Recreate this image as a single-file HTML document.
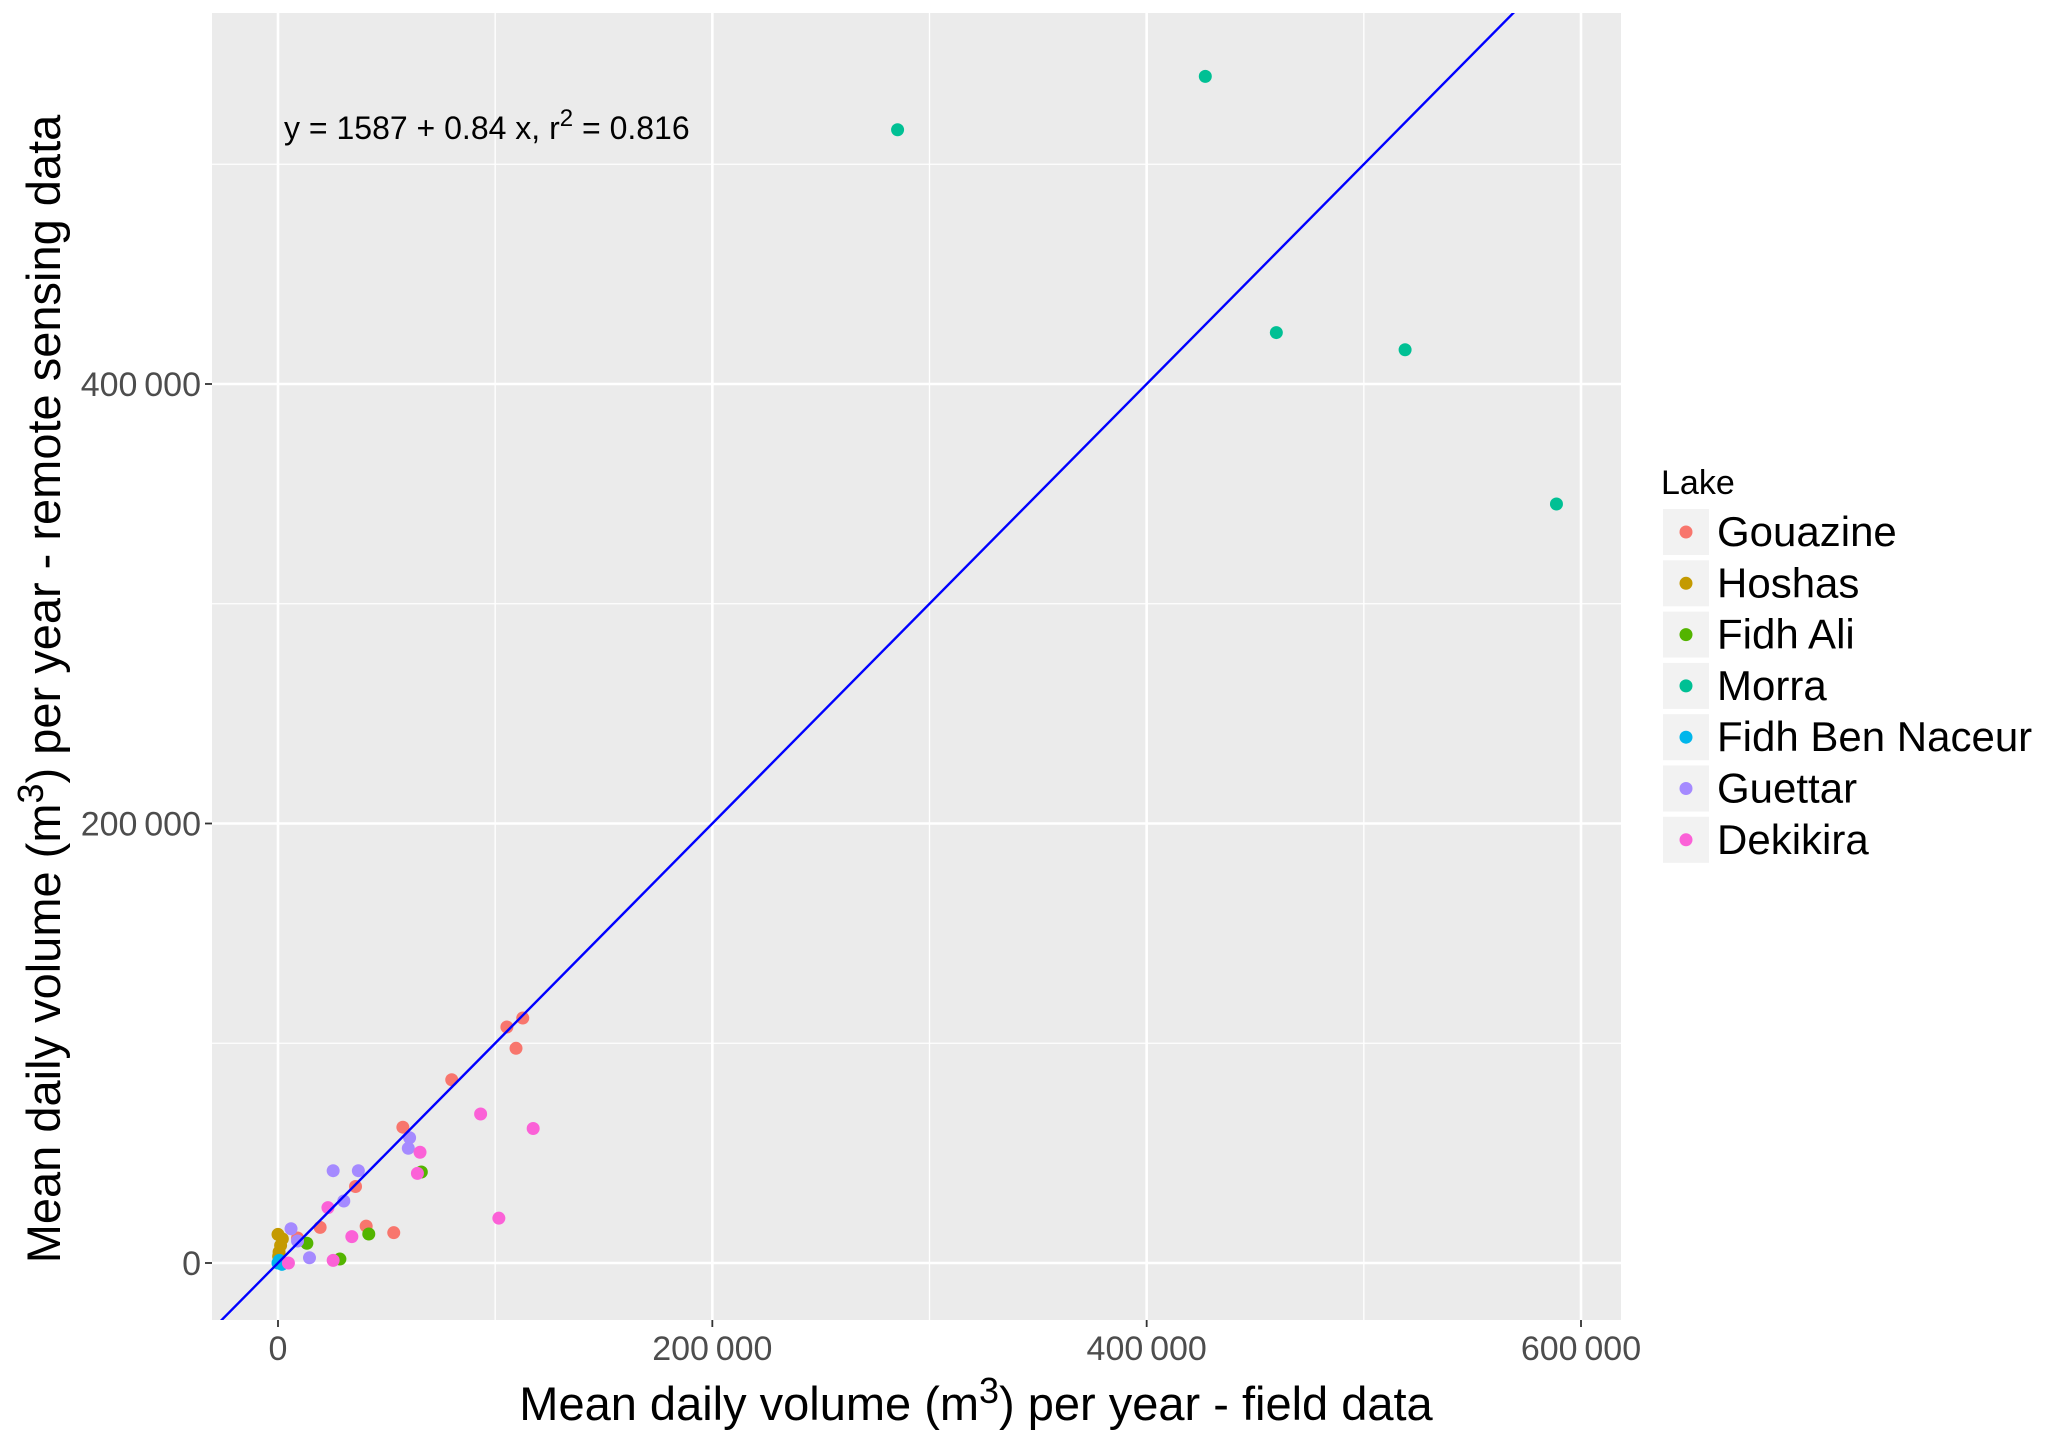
<!DOCTYPE html>
<html><head><meta charset="utf-8"><style>
html,body{margin:0;padding:0;background:#fff;}
svg{display:block;font-family:"Liberation Sans",Arial,sans-serif;}
</style></head><body>
<svg id="chart" width="2066" height="1431" xmlns="http://www.w3.org/2000/svg"></svg>
<script>
const lakes = ["Gouazine","Hoshas","Fidh Ali","Morra","Fidh Ben Naceur","Guettar","Dekikira"];
const colors = ["#F8766D","#C49A00","#53B400","#00C094","#00B6EB","#A58AFF","#FB61D7"];
const gouazineX = [112700,105400,109600,80000,57500,53300,40600,35700,19400,9000];
const gouazineY = [111500,107400,97700,83400,61800,13800,16800,34800,16200,11400];
const hoshasX = [0,1200,300,2000,500];
const hoshasY = [13000,8000,3000,11000,5000];
const fidhAliX = [66000,41800,28500,13300];
const fidhAliY = [41400,13200,1800,9000];
const morraX = [285300,427000,459700,519000,588700];
const morraY = [515700,540000,423400,415600,345400];
const fbnX = [0,600,1800];
const fbnY = [0,1200,-600];
const guettarX = [60600,60000,25400,37000,30300,6000,14500,9000];
const guettarY = [57000,52200,42000,42000,28200,15600,2400,10000];
const dekikiraX = [93300,117500,65400,64200,101700,23000,34000,25400,4800];
const dekikiraY = [67800,61200,50400,40800,20400,25200,12000,1200,0];
const seriesX = [gouazineX,hoshasX,fidhAliX,morraX,fbnX,guettarX,dekikiraX];
const seriesY = [gouazineY,hoshasY,fidhAliY,morraY,fbnY,guettarY,dekikiraY];
const xTicks = [0,200000,400000,600000];
const xTickLabels = ["0","200\u2009000","400\u2009000","600\u2009000"];
const yTicks = [0,200000,400000];
const yTickLabels = ["0","200\u2009000","400\u2009000"];
const xMinor = [100000,300000,500000];
const yMinor = [100000,300000,500000];
const lineIntercept = 0;
const lineSlope = 1;

const NS="http://www.w3.org/2000/svg";
const svg=document.getElementById('chart');
const P={l:212,r:1621,t:13,b:1320};
const X0=278, XS=(1581-278)/600000;
const Y0=1263, YS=(1263-384)/400000;
const sx=v=>X0+v*XS, sy=v=>Y0-v*YS;
function mk(tag,attrs,parent){const e=document.createElementNS(NS,tag);for(const k in attrs)e.setAttribute(k,attrs[k]);(parent||svg).appendChild(e);return e;}

const panel=mk('rect',{x:P.l,y:P.t,width:P.r-P.l,height:P.b-P.t,fill:'#EBEBEB'});


const grid=mk('g',{});


xMinor.forEach(v=>mk('line',{x1:sx(v),x2:sx(v),y1:P.t,y2:P.b,stroke:'#fff','stroke-width':1.3},grid));
yMinor.forEach(v=>mk('line',{x1:P.l,x2:P.r,y1:sy(v),y2:sy(v),stroke:'#fff','stroke-width':1.3},grid));
xTicks.forEach(v=>mk('line',{x1:sx(v),x2:sx(v),y1:P.t,y2:P.b,stroke:'#fff','stroke-width':2.6},grid));
yTicks.forEach(v=>mk('line',{x1:P.l,x2:P.r,y1:sy(v),y2:sy(v),stroke:'#fff','stroke-width':2.6},grid));

const xa=mk('g',{});


xTicks.forEach((v,i)=>{
  mk('line',{x1:sx(v),x2:sx(v),y1:P.b,y2:P.b+7,stroke:'#333','stroke-width':1.8},xa);
  const t=mk('text',{x:sx(v),y:P.b+40,'text-anchor':'middle','font-size':34,fill:'#4D4D4D'},xa);
  t.textContent=xTickLabels[i];
  
  
});
const ya=mk('g',{});


yTicks.forEach((v,i)=>{
  mk('line',{x1:P.l-7,x2:P.l,y1:sy(v),y2:sy(v),stroke:'#333','stroke-width':1.8},ya);
  const t=mk('text',{x:P.l-11,y:sy(v)+12,'text-anchor':'end','font-size':34,fill:'#4D4D4D'},ya);
  t.textContent=yTickLabels[i];
  
  
});

const pts=mk('g',{});


seriesX.forEach((xs,s)=>{
  xs.forEach((xv,i)=>{
    const c=mk('circle',{cx:sx(xv),cy:sy(seriesY[s][i]),r:6.5,fill:colors[s]},pts);
    
    
  });
});

const cp=mk('clipPath',{id:'pc'});mk('rect',{x:P.l,y:P.t,width:P.r-P.l,height:P.b-P.t},cp);
const xa0=-60000, xa1=700000;
const fl=mk('line',{x1:sx(xa0),y1:sy(lineIntercept+lineSlope*xa0),x2:sx(xa1),y2:sy(lineIntercept+lineSlope*xa1),stroke:'#0000FF','stroke-width':2.4,'clip-path':'url(#pc)'});



const eq=mk('text',{x:284,y:139,'font-size':32,fill:'#000'});


eq.innerHTML='y = 1587 + 0.84 x, r<tspan dy="-13" font-size="24">2</tspan><tspan dy="13"> = 0.816</tspan>';

const xt=mk('text',{x:976,y:1420,'text-anchor':'middle','font-size':47,fill:'#000'});


xt.innerHTML='Mean daily volume (m<tspan dy="-17" font-size="36">3</tspan><tspan dy="17">) per year - field data</tspan>';
const yt=mk('text',{x:0,y:0,'text-anchor':'middle','font-size':47,fill:'#000',transform:'translate(60,689) rotate(-90)'});


yt.innerHTML='Mean daily volume (m<tspan dy="-17" font-size="36">3</tspan><tspan dy="17">) per year - remote sensing data</tspan>';

const lg=mk('g',{});


const lt=mk('text',{x:1661,y:494,'font-size':34,fill:'#000'},lg);
lt.textContent='Lake';


lakes.forEach((n,i)=>{
  const cy=532+i*51.3;
  const e=mk('g',{},lg);
  
  
  mk('rect',{x:1663,y:cy-23,width:46,height:46,fill:'#F2F2F2'},e);
  mk('circle',{cx:1686,cy:cy,r:6.5,fill:colors[i]},e);
  const t=mk('text',{x:1717,y:cy+14,'font-size':42,fill:'#000'},e);
  t.textContent=n;
});
</script>
</body></html>
